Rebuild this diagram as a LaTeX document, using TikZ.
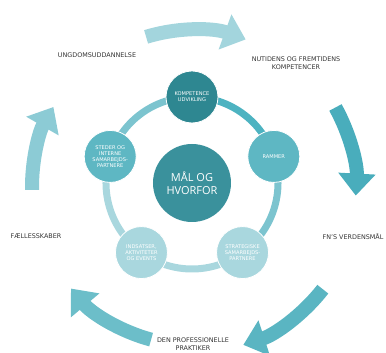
\documentclass[tikz,border=0pt]{standalone}
\usepackage{fontspec}
\setmainfont{DejaVu Sans}
\newfontfamily\centerfont{Open Sans}
\usetikzlibrary{arrows.meta, backgrounds}
\usepackage{xcolor}

\definecolor{textgrey}{HTML}{333333}
\definecolor{maalcol}{HTML}{3A919C}
\definecolor{kompcol}{HTML}{2E8791}
\definecolor{midcol}{HTML}{5EB7C3}
\definecolor{lightcol}{HTML}{A9D7DE}
\definecolor{segdark}{HTML}{4DB3C1}
\definecolor{segmid}{HTML}{7CC4CF}
\definecolor{arrowtop}{HTML}{A3D5DD}
\definecolor{arrowright}{HTML}{49ADBC}
\definecolor{arrowbr}{HTML}{5AB5C2}
\definecolor{arrowbl}{HTML}{6CBEC9}
\definecolor{arrowleft}{HTML}{8CCBD5}

\tikzset{
    ringnode/.style={circle, minimum size=52pt, inner sep=0pt, draw=white, line width=0.8pt,
        text=white, align=center, font=\fontsize{5.1}{5.9}\selectfont},
    outerlabel/.style={align=center, text=textgrey, font=\fontsize{6.4}{7.4}\selectfont},
    bigarrow/.style={line width=14pt, -{Triangle[width=36pt,length=22pt]}},
    ringseg/.style={line width=7pt}
}

\begin{document}
\begin{tikzpicture}[x=1pt,y=1pt]
            \useasboundingbox (-192,-170) rectangle (194,183);

            % the five arrows round the outside
            \begin{scope}[shift={(0,-4)}]
            \draw[bigarrow, arrowtop] (107:157) arc[start angle=107, end angle=70, radius=157];
            \draw[bigarrow, arrowright] (29:164) arc[start angle=29, end angle=-3, radius=164];
            \draw[bigarrow, arrowbr] (-38:166) arc[start angle=-38, end angle=-72, radius=166];
            \draw[bigarrow, arrowbl] (-105:158) arc[start angle=-105, end angle=-140, radius=158];
            \draw[bigarrow, arrowleft] (181:160) arc[start angle=181, end angle=150, radius=160];
            \end{scope}

            % the centre
            \node[circle, minimum size=78pt, inner sep=0pt, fill=maalcol, text=white, align=center,
                font=\centerfont\fontsize{11}{12.5}\selectfont] (maal) at (0,0) {MÅL OG\\HVORFOR};

            % the five circles on the ring
            \node[ringnode, fill=kompcol] (komp) at (90:86) {KOMPETENCE\\UDVIKLING};
            \node[ringnode, fill=midcol] (rammer) at (18:86) {RAMMER};
            \node[ringnode, fill=lightcol] (strat) at (-54:86) {STRATEGISKE\\SAMARBEJDS-\\PARTNERE};
            \node[ringnode, fill=lightcol] (inds) at (-126:86) {INDSATSER,\\AKTIVITETER\\OG EVENTS};
            \node[ringnode, fill=midcol] (steder) at (162:86) {STEDER OG\\INTERNE\\SAMARBEJDS-\\PARTNERE};

            % the ring between them
            \begin{scope}[on background layer]
            \draw[ringseg, segdark] (komp.center) arc[start angle=90, end angle=18, radius=86];
            \draw[ringseg, segmid] (rammer.center) arc[start angle=18, end angle=-54, radius=86];
            \draw[ringseg, lightcol] (strat.center) arc[start angle=-54, end angle=-126, radius=86];
            \draw[ringseg, lightcol] (inds.center) arc[start angle=-126, end angle=-198, radius=86];
            \draw[ringseg, segmid] (steder.center) arc[start angle=162, end angle=90, radius=86];
            \end{scope}

            % text outside
            \node[outerlabel] (ungdom) at (-95,128) {UNGDOMSUDDANNELSE};
            \node[outerlabel] (nutid) at (104,120) {NUTIDENS OG FREMTIDENS\\KOMPETENCER};
            \node[outerlabel] (fn) at (161,-54) {FN'S VERDENSMÅL};
            \node[outerlabel] (prof) at (1,-161) {DEN PROFESSIONELLE\\PRAKTIKER};
            \node[outerlabel] (faelles) at (-156,-53) {FÆLLESSKABER};
        \end{tikzpicture}
\end{document}
